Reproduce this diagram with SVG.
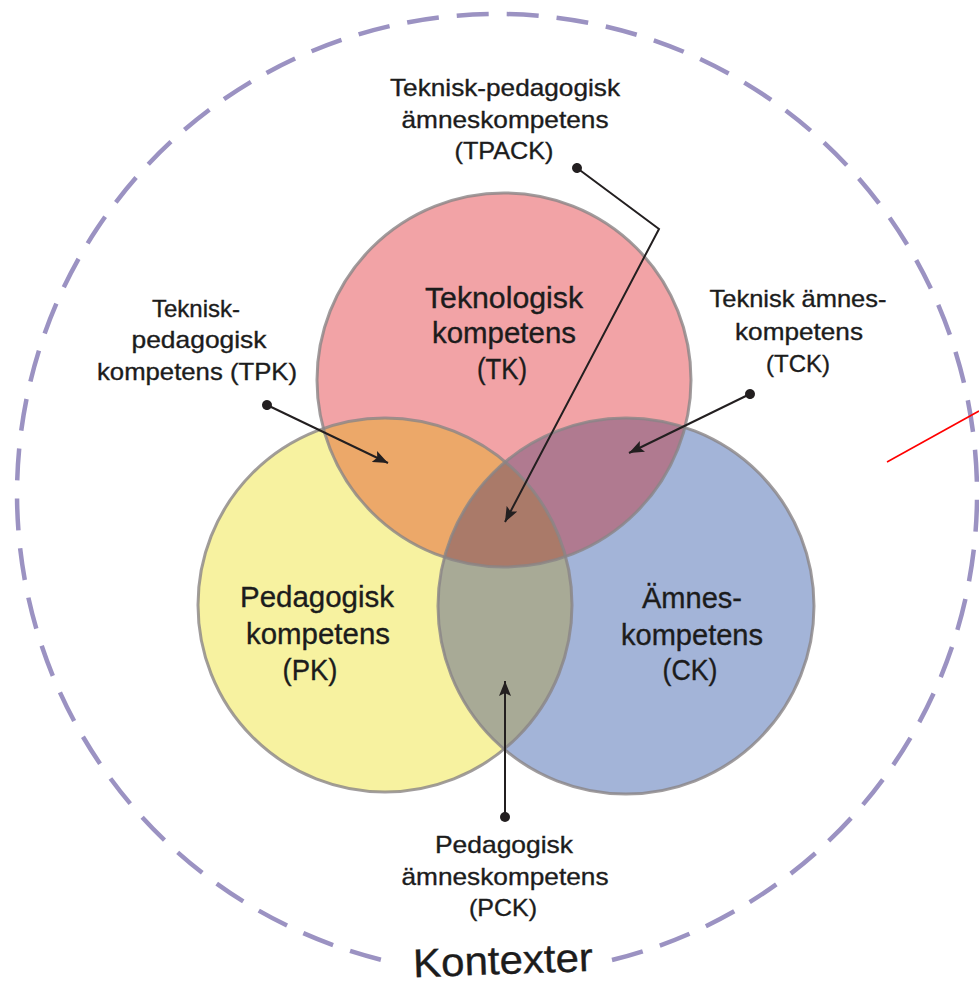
<svg xmlns="http://www.w3.org/2000/svg" width="979" height="987" viewBox="0 0 979 987">
<style>
.lbl{font-family:"Liberation Sans","DejaVu Sans",sans-serif;fill:#1c1c1c;text-anchor:middle;stroke:#1c1c1c;stroke-width:0.35}
.s{font-size:24px}
.b{font-size:29px}
.edge{fill:none;stroke:#8a8486;stroke-width:3;stroke-opacity:0.8}
.con{fill:none;stroke:#231f20;stroke-width:2;marker-start:url(#dot);marker-end:url(#arr)}
</style>
<defs>
<marker id="arr" markerUnits="userSpaceOnUse" markerWidth="16" markerHeight="12" refX="15" refY="6" orient="auto">
<path d="M0,0 L15,6 L0,12 L3,6 z" fill="#231f20"/>
</marker>
<marker id="dot" markerUnits="userSpaceOnUse" markerWidth="12" markerHeight="12" refX="6" refY="6" orient="auto">
<circle cx="6" cy="6" r="5" fill="#231f20"/>
</marker>
<clipPath id="cT"><circle cx="504" cy="380" r="187"/></clipPath>
<clipPath id="cP"><circle cx="385" cy="605" r="187"/></clipPath>
</defs>
<rect width="979" height="987" fill="#ffffff"/>
<g id="context">
<path d="M612,960 A480,480 0 1 0 395,963" fill="none" stroke="#9b92c2" stroke-width="4.5" stroke-dasharray="32 18"/>
<text class="lbl" style="font-size:40px" x="503" y="974" textLength="180" lengthAdjust="spacingAndGlyphs" transform="rotate(-2 503 962)">Kontexter</text>
</g>
<g id="venn">
<circle cx="504" cy="380" r="187" fill="#f2a3a6"/>
<circle cx="385" cy="605" r="187" fill="#f7f2a0"/>
<circle cx="626" cy="606" r="188" fill="#a3b4d8"/>
<circle cx="385" cy="605" r="187" fill="#eca869" clip-path="url(#cT)"/>
<circle cx="626" cy="606" r="188" fill="#b07a90" clip-path="url(#cT)"/>
<circle cx="626" cy="606" r="188" fill="#a8aa96" clip-path="url(#cP)"/>
<g clip-path="url(#cT)"><circle cx="626" cy="606" r="188" fill="#aa7a69" clip-path="url(#cP)"/></g>
<circle class="edge" cx="504" cy="380" r="187"/>
<circle class="edge" cx="385" cy="605" r="187"/>
<circle class="edge" cx="626" cy="606" r="188"/>
</g>
<g id="TK">
<text class="lbl b" x="504" y="308" textLength="158" lengthAdjust="spacingAndGlyphs">Teknologisk</text>
<text class="lbl b" x="504" y="343" textLength="144" lengthAdjust="spacingAndGlyphs">kompetens</text>
<text class="lbl b" x="502" y="379" textLength="50" lengthAdjust="spacingAndGlyphs">(TK)</text>
</g>
<g id="PK">
<text class="lbl b" x="317" y="607" textLength="154" lengthAdjust="spacingAndGlyphs">Pedagogisk</text>
<text class="lbl b" x="318" y="644" textLength="144" lengthAdjust="spacingAndGlyphs">kompetens</text>
<text class="lbl b" x="310" y="680" textLength="55" lengthAdjust="spacingAndGlyphs">(PK)</text>
</g>
<g id="CK">
<text class="lbl b" x="692" y="608" textLength="100" lengthAdjust="spacingAndGlyphs">Ämnes-</text>
<text class="lbl b" x="692" y="645" textLength="142" lengthAdjust="spacingAndGlyphs">kompetens</text>
<text class="lbl b" x="690" y="680" textLength="55" lengthAdjust="spacingAndGlyphs">(CK)</text>
</g>
<g id="TPACK">
<text class="lbl s" x="505" y="96" textLength="230" lengthAdjust="spacingAndGlyphs">Teknisk-pedagogisk</text>
<text class="lbl s" x="505" y="128" textLength="207" lengthAdjust="spacingAndGlyphs">ämneskompetens</text>
<text class="lbl s" x="504" y="159" textLength="99" lengthAdjust="spacingAndGlyphs">(TPACK)</text>
</g>
<g id="TPK">
<text class="lbl s" x="196" y="317" textLength="88" lengthAdjust="spacingAndGlyphs">Teknisk-</text>
<text class="lbl s" x="199" y="348" textLength="135" lengthAdjust="spacingAndGlyphs">pedagogisk</text>
<text class="lbl s" x="197" y="380" textLength="200" lengthAdjust="spacingAndGlyphs">kompetens (TPK)</text>
</g>
<g id="TCK">
<text class="lbl s" x="798" y="307" textLength="177" lengthAdjust="spacingAndGlyphs">Teknisk ämnes-</text>
<text class="lbl s" x="799" y="340" textLength="128" lengthAdjust="spacingAndGlyphs">kompetens</text>
<text class="lbl s" x="798" y="372" textLength="64" lengthAdjust="spacingAndGlyphs">(TCK)</text>
</g>
<g id="PCK">
<text class="lbl s" x="504" y="853" textLength="138" lengthAdjust="spacingAndGlyphs">Pedagogisk</text>
<text class="lbl s" x="505" y="885" textLength="207" lengthAdjust="spacingAndGlyphs">ämneskompetens</text>
<text class="lbl s" x="503" y="916" textLength="68" lengthAdjust="spacingAndGlyphs">(PCK)</text>
</g>
<g id="connectors">
<polyline class="con" points="577,168 659,229 505,522"/>
<line class="con" x1="267" y1="405" x2="388" y2="463"/>
<line class="con" x1="750" y1="394" x2="629" y2="453"/>
<line class="con" x1="505" y1="817" x2="505" y2="681"/>
<line x1="887" y1="462" x2="979" y2="411" stroke="#ff0000" stroke-width="1.6"/>
</g>
</svg>
